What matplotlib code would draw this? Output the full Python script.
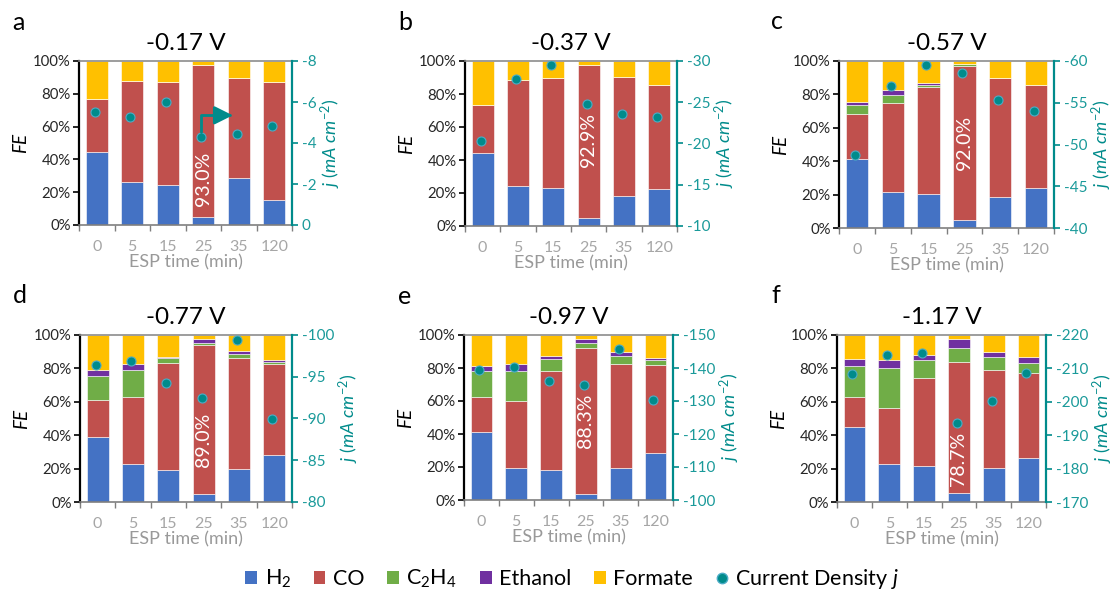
import matplotlib
matplotlib.use("Agg")
import matplotlib.pyplot as plt
import numpy as np
from matplotlib.lines import Line2D
from matplotlib.patches import Patch

plt.rcParams['font.family'] = ['Lato', 'DejaVu Sans']
plt.rcParams['axes.unicode_minus'] = False
plt.rcParams['mathtext.fontset'] = 'custom'
plt.rcParams['mathtext.rm'] = 'Lato'
plt.rcParams['mathtext.it'] = 'Lato:italic'

# ---------------- data ----------------
times = ['0', '5', '15', '25', '35', '120']
letters = ['a', 'b', 'c', 'd', 'e', 'f']
potentials = ['-0.17 V', '-0.37 V', '-0.57 V', '-0.77 V', '-0.97 V', '-1.17 V']
co_labels = ['93.0%', '92.9%', '92.0%', '89.0%', '88.3%', '78.7%']

h2_a = [44.7, 26.5, 24.3, 4.8, 28.6, 15.1]
co_a = [32.0, 61.5, 63.0, 93.0, 61.0, 71.8]
c2h4_a = [0, 0, 0, 0, 0, 0]
etoh_a = [0, 0, 0, 0, 0, 0]
form_a = [23.3, 12.0, 12.7, 2.2, 10.4, 13.1]
j_a = [-5.50, -5.27, -5.98, -4.31, -4.44, -4.82]

h2_b = [44.2, 24.0, 22.8, 4.6, 18.0, 22.2]
co_b = [29.4, 64.4, 66.6, 92.9, 72.2, 63.0]
c2h4_b = [0, 0, 0, 0, 0, 0]
etoh_b = [0, 0, 0, 0, 0, 0]
form_b = [26.4, 11.6, 10.6, 2.5, 9.8, 14.8]
j_b = [-20.3, -27.8, -29.5, -24.8, -23.6, -23.2]

h2_c = [41.1, 21.3, 20.4, 4.9, 18.8, 23.7]
co_c = [27.1, 53.4, 63.8, 92.0, 71.1, 62.1]
c2h4_c = [5.3, 4.9, 1.2, 1.2, 0, 0]
etoh_c = [2.2, 3.2, 1.2, 0.3, 0, 0]
form_c = [24.3, 17.2, 13.4, 1.6, 10.1, 14.2]
j_c = [-48.8, -57.0, -59.5, -58.6, -55.3, -54.0]

h2_d = [39.1, 22.8, 19.2, 4.8, 19.8, 27.9]
co_d = [21.8, 40.3, 64.0, 89.0, 66.6, 54.5]
c2h4_d = [14.3, 15.7, 2.8, 1.6, 2.0, 1.6]
etoh_d = [3.8, 4.0, 1.0, 2.0, 1.8, 1.0]
form_d = [21.0, 17.2, 13.0, 2.6, 9.8, 15.0]
j_d = [-96.4, -96.9, -94.3, -92.5, -99.4, -89.9]

h2_e = [41.1, 19.6, 18.3, 3.9, 19.6, 28.3]
co_e = [21.4, 40.7, 60.1, 88.3, 63.1, 53.6]
c2h4_e = [15.7, 18.1, 6.9, 2.8, 4.5, 3.2]
etoh_e = [3.1, 4.1, 2.1, 2.3, 2.4, 0.8]
form_e = [18.7, 17.5, 12.6, 2.7, 10.4, 14.1]
j_e = [-139.3, -140.4, -136.1, -135.0, -145.9, -130.3]

h2_f = [44.9, 22.8, 21.4, 5.2, 20.4, 26.3]
co_f = [18.2, 33.7, 52.9, 78.7, 58.4, 50.9]
c2h4_f = [18.5, 23.7, 10.9, 8.6, 7.8, 6.2]
etoh_f = [4.0, 5.0, 2.6, 5.2, 3.0, 3.4]
form_f = [14.4, 14.8, 12.2, 2.3, 10.4, 13.2]
j_f = [-208.2, -214.0, -214.5, -193.6, -200.3, -208.6]

j_limits = [(0, -8), (-10, -30), (-40, -60), (-80, -100), (-100, -150), (-170, -220)]
j_steps = [2, 5, 5, 5, 10, 10]

panels = [
    (h2_a, co_a, c2h4_a, etoh_a, form_a, j_a),
    (h2_b, co_b, c2h4_b, etoh_b, form_b, j_b),
    (h2_c, co_c, c2h4_c, etoh_c, form_c, j_c),
    (h2_d, co_d, c2h4_d, etoh_d, form_d, j_d),
    (h2_e, co_e, c2h4_e, etoh_e, form_e, j_e),
    (h2_f, co_f, c2h4_f, etoh_f, form_f, j_f),
]

# ---------------- style ----------------
colors = ['#4472C4', '#C0504D', '#70AD47', '#7030A0', '#FFC000']
names = ['H$_2$', 'CO', 'C$_2$H$_4$', 'Ethanol', 'Formate']
teal = '#008B8B'
teal_txt = '#1A9A9A'
gray = '#A6A6A6'
label_y = [28, 52, 51, 37, 48, 26]

W, H = 1115, 594
# left, right, top, bottom in pixels
boxes = [(79, 292, 61, 225), (465, 677, 61, 226), (839, 1054, 61, 228),
         (80, 292, 335, 502), (464, 673, 335, 500), (837, 1046, 335, 502)]

fig = plt.figure(figsize=(W / 100, H / 100), dpi=100)

for i, (data, box) in enumerate(zip(panels, boxes)):
    l, r, t, b = box
    ax = fig.add_axes([l / W, 1 - b / H, (r - l) / W, (b - t) / H])
    x = np.arange(len(times))
    bottom = np.zeros(len(times))
    for k in range(5):
        vals = np.array(data[k], dtype=float)
        ax.bar(x, vals, width=0.62, bottom=bottom, color=colors[k],
               edgecolor='white', linewidth=0.4, zorder=2)
        bottom += vals
    ax.set_xlim(-0.5, len(times) - 0.5)
    ax.set_ylim(0, 100)
    ax.set_yticks(np.arange(0, 101, 20))
    ax.set_yticklabels([f'{v}%' for v in range(0, 101, 20)], fontsize=10.7, color='#262626')
    ax.set_xticks(x)
    ax.set_xticklabels(times, fontsize=11.5, color=gray)
    ax.set_xticks(np.arange(-0.5, len(times), 1), minor=True)
    ax.tick_params(axis='x', which='major', length=0, pad=11)
    ax.tick_params(axis='x', which='minor', length=4, color='#7F7F7F', width=1)
    ax.tick_params(axis='y', length=4, color='black', width=1.2, pad=2)
    ax.spines['left'].set_color('black')
    ax.spines['left'].set_linewidth(1.6)
    ax.spines['bottom'].set_color('#7F7F7F')
    ax.spines['bottom'].set_linewidth(1.2)
    ax.spines['top'].set_color('#8C8C8C')
    ax.spines['top'].set_linewidth(1.2)
    ax.spines['right'].set_visible(False)
    ax.set_ylabel('FE', fontsize=13.5, style='italic', labelpad=3)
    ax.set_xlabel('ESP time (min)', fontsize=13, color='#999999', labelpad=0)
    ax.set_title(potentials[i], fontsize=17.5, pad=8)
    ax.text(-0.315, 1.165, letters[i], transform=ax.transAxes, fontsize=18,
            ha='left', va='bottom')
    # CO label on 25-min bar
    ax.text(3, label_y[i], co_labels[i], rotation=90, ha='center', va='center',
            color='white', fontsize=14, zorder=5)

    ax2 = ax.twinx()
    ax2.set_ylim(*j_limits[i])
    lo, hi = j_limits[i]
    ticks = np.arange(lo, hi - 0.01, -j_steps[i])
    ax2.set_yticks(ticks)
    ax2.set_yticklabels([f'{v:g}' for v in ticks])
    ax2.plot(x - 0.06, data[5], 'o', color=teal, markersize=6.5,
             markeredgecolor='#4BACC6', markeredgewidth=0.8, zorder=6)
    for s in ['left', 'top', 'bottom']:
        ax2.spines[s].set_visible(False)
    ax2.spines['right'].set_color(teal)
    ax2.spines['right'].set_linewidth(1.6)
    ax2.tick_params(axis='y', colors=teal, labelcolor=teal_txt, labelsize=11,
                    length=4, width=1.2, pad=3)
    ax2.set_ylabel(r'$j\ (mA\ cm^{-2})$', fontsize=13, color=teal, labelpad=2)

    if i == 0:
        ax2.annotate('', xy=(3.83, -5.35), xytext=(3 - 0.06, j_a[3]),
                     arrowprops=dict(arrowstyle='-|>,head_length=1.1,head_width=0.55',
                                     color=teal, lw=2,
                                     connectionstyle='angle,angleA=90,angleB=0,rad=0',
                                     shrinkA=3, shrinkB=0),
                     zorder=7)

handles = [Patch(facecolor=c, edgecolor='none') for c in colors]
handles.append(Line2D([0], [0], marker='o', color='none', markerfacecolor=teal,
                      markeredgecolor='#4BACC6', markersize=7.5))
labels = names + ['Current Density $j$']
fig.legend(handles, labels, loc='center', bbox_to_anchor=(0.513, 1 - 579 / H),
           ncol=6, frameon=False, fontsize=15.5, handlelength=0.55, handleheight=0.55,
           handletextpad=0.35, columnspacing=1.05)

fig.savefig('out.png', dpi=100)
